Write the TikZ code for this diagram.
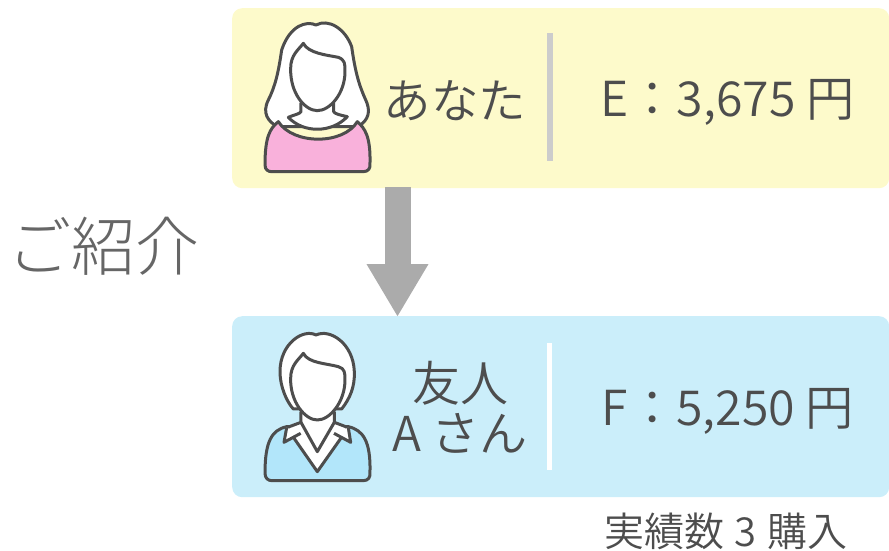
\documentclass[tikz,border=0pt]{standalone}
\usepackage{fontspec}
\setmainfont{Noto Sans CJK JP DemiLight}
\newfontfamily\thinfont{Noto Sans CJK JP Light}
\usetikzlibrary{arrows.meta}
\definecolor{boxyellow}{HTML}{FDFACB}
\definecolor{boxblue}{HTML}{CBEEFA}
\definecolor{inkgray}{HTML}{4D4D4D}
\definecolor{softgray}{HTML}{666666}
\definecolor{arrowgray}{HTML}{ABABAB}
\definecolor{shirtpink}{HTML}{F9B1DB}
\definecolor{shirtblue}{HTML}{B2E6FA}
\begin{document}
\begin{tikzpicture}[x=1pt,y=-1pt]
% size of the page
\useasboundingbox (0,0) rectangle (889,550);
% style definitions
\tikzstyle{panel} = [rectangle, rounded corners=10pt, minimum width=657pt, anchor=north west, inner sep=0pt];
\tikzstyle{plain} = [draw=none,fill=none,text=inkgray,inner sep=0pt];
\tikzstyle{figure} = [draw=inkgray, line width=3pt, line join=round, fill=white];
% panels
\node[panel, fill=boxyellow, minimum height=180pt] (you) at (232,8) {};
\node[panel, fill=boxblue, minimum height=181pt] (friend) at (232,316) {};
\coordinate (arrowtop) at (397.5,187);
\coordinate (arrowend) at (397.5,317);
\draw[arrowgray, line width=26pt, -{Triangle[width=58pt,length=53pt]}] (arrowtop) -- (arrowend);
% separators
\fill[black!20] (547,33) rectangle (553,161);
\fill[white] (547,343) rectangle (552,470);
% woman
\begin{scope}[shift={(240,0)},x=0.3333pt,y=-0.3333pt]
\draw[figure] (228,75) .. controls (200,62) and (150,75) .. (125,150) .. controls (115,220) and (105,260) .. (85,300) .. controls (65,340) and (85,365) .. (112,380) -- (355,380) .. controls (385,360) and (395,335) .. (375,295) .. controls (355,250) and (345,210) .. (335,140) .. controls (315,85) and (265,55) .. (228,75) -- cycle;
\draw[figure, fill=shirtpink] (115,365) .. controls (90,385) and (75,410) .. (75,495) .. controls (75,510) and (85,515) .. (95,515) -- (370,515) .. controls (385,515) and (392,505) .. (390,490) .. controls (392,410) and (375,385) .. (352,365) .. controls (310,435) and (160,435) .. (115,365) -- cycle;
\draw[figure] (183,308) -- (183,335) .. controls (180,342) and (160,345) .. (145,352) .. controls (190,400) and (275,400) .. (322,350) .. controls (300,345) and (285,342) .. (281,335) -- (281,308);
\draw[figure] (190,130) .. controls (205,160) and (260,165) .. (295,172) .. controls (315,180) and (315,190) .. (315,215) .. controls (315,280) and (270,332) .. (232,332) .. controls (195,332) and (150,280) .. (152,205) .. controls (152,165) and (175,150) .. (190,130) -- cycle;
\end{scope}
% man
\begin{scope}[shift={(240,315)},x=0.3333pt,y=-0.3333pt]
\draw[figure, fill=shirtblue] (140,335) .. controls (95,345) and (75,380) .. (75,475) .. controls (75,490) and (85,497) .. (95,497) -- (370,497) .. controls (385,497) and (392,487) .. (390,470) .. controls (392,380) and (370,345) .. (325,335) -- cycle;
\draw[figure] (228,60) .. controls (190,40) and (120,85) .. (120,170) .. controls (120,215) and (140,260) .. (160,282) -- (305,282) .. controls (330,250) and (345,215) .. (343,170) .. controls (340,85) and (270,40) .. (228,60) -- cycle;
\draw[figure] (183,290) -- (183,322) -- (140,338) -- (232,470) -- (325,338) -- (283,322) -- (283,290);
\draw[figure] (183,322) -- (232,410) -- (283,322);
\draw[figure] (140,338) -- (132,382) -- (182,355);
\draw[figure] (325,338) -- (332,382) -- (282,355);
\draw[figure] (190,115) .. controls (205,145) and (260,145) .. (295,155) .. controls (315,160) and (315,175) .. (315,195) .. controls (315,260) and (270,315) .. (232,315) .. controls (195,315) and (150,260) .. (152,190) .. controls (152,150) and (175,135) .. (190,115) -- cycle;
\end{scope}
% labels
\node[plain, text=softgray, font=\thinfont\fontsize{64}{64}\selectfont] (intro) at (104,246) {ご紹介};
\node[plain, font=\fontsize{47.5}{47.5}\selectfont] (younm) at (455,101) {あなた};
\node[plain, font=\fontsize{48.2}{48.2}\selectfont] (youpt) at (727.5,102) {E：3,675 円};
\node[plain, font=\fontsize{48}{50}\selectfont, align=center] (friendnm) at (460,407) {友人\\A さん};
\node[plain, font=\fontsize{48.2}{48.2}\selectfont] (friendpt) at (728,411) {F：5,250 円};
\node[plain, font=\fontsize{40}{40}\selectfont] (result) at (726,531) {実績数\kern2pt{} 3 \kern2pt{}購入};
\end{tikzpicture}
\end{document}
